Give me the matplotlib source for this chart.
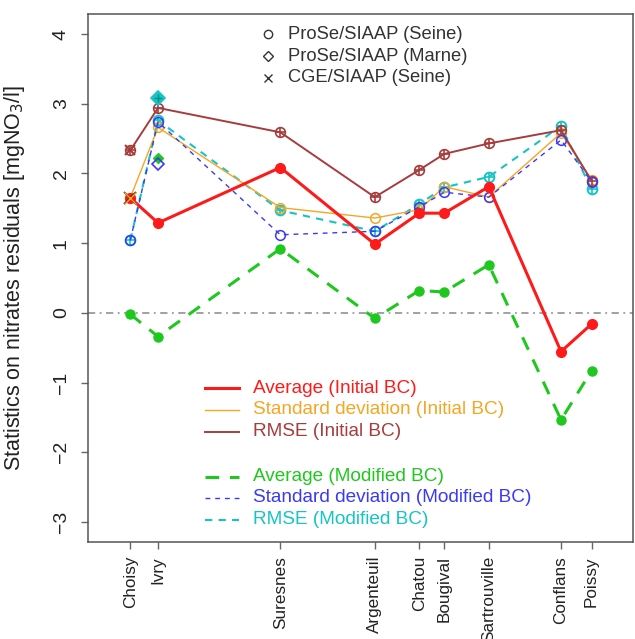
import matplotlib
matplotlib.use("Agg")
import matplotlib.pyplot as plt

plt.rcParams['font.family'] = ['Liberation Sans', 'DejaVu Sans']

# ---------------- data ----------------
stations = ["Choisy", "Ivry", "Suresnes", "Argenteuil", "Chatou", "Bougival",
            "Sartrouville", "Conflans", "Poissy"]
km = [0, 10, 54, 88, 104, 113, 129, 155, 166]

avg_init = [1.65, 1.29, 2.085, 0.985, 1.43, 1.43, 1.81, -0.555, -0.16]
sd_init = [1.65, 2.66, 1.51, 1.36, 1.48, 1.81, 1.66, 2.58, 1.91]
rmse_init = [2.33, 2.94, 2.59, 1.66, 2.05, 2.28, 2.43, 2.62, 1.89]
avg_mod = [-0.02, -0.34, 0.92, -0.08, 0.32, 0.30, 0.69, -1.535, -0.83]
sd_mod = [1.04, 2.74, 1.12, 1.17, 1.52, 1.73, 1.66, 2.48, 1.88]
rmse_mod = [1.04, 2.76, 1.47, 1.17, 1.56, 1.80, 1.95, 2.68, 1.77]

# ProSe/SIAAP (Marne) at Ivry, modified BC
marne_km = [10]
marne_avg_mod = [2.22]
marne_sd_mod = [2.13]
marne_rmse_mod = [3.08]

# CGE/SIAAP (Seine) at Choisy, initial BC
cge_km = [0]
cge_avg = [1.65]
cge_sd = [1.65]
cge_rmse = [2.33]

yticks = [-3, -2, -1, 0, 1, 2, 3, 4]

# ---------------- colours ----------------
c_red = '#ff1a1a'
c_orange = '#f5a623'
c_brown = '#a83c3c'
c_green = '#1ec81e'
c_blue = '#3a3af5'
c_cyan = '#16c4c4'

fig = plt.figure(figsize=(6.35, 6.39), dpi=100)
ax = fig.add_axes([88/635, 97/639, 545/635, 528/639])

ax.axhline(0, color='#9a9a9a', lw=1.3, ls=(0, (4, 2.5, 1, 2.5)), zorder=1)

# Initial BC
ax.plot(km, avg_init, color=c_red, lw=2.2, marker='o', ms=7, mfc=c_red, mec=c_red, zorder=5)
ax.plot(km, sd_init, color=c_orange, lw=1.0, marker='o', ms=7, mfc='none', mec=c_orange, mew=1.1, zorder=4)
ax.plot(km, rmse_init, color=c_brown, lw=1.4, marker='o', ms=7, mfc='none', mec=c_brown, mew=1.2, zorder=4)
ax.plot(km, rmse_init, ls='none', marker='+', ms=7, mec=c_brown, mew=1.2, zorder=4)

# Modified BC
ax.plot(km, avg_mod, color=c_green, lw=2.2, ls=(0, (4.5, 3.5)), marker='o', ms=6.5,
        mfc=c_green, mec=c_green, zorder=5)
ax.plot(km, sd_mod, color=c_blue, lw=1.0, ls=(0, (3.5, 3.5)), marker='o', ms=7,
        mfc='none', mec=c_blue, mew=1.1, zorder=4)
ax.plot(km, rmse_mod, color=c_cyan, lw=1.5, ls=(0, (3.5, 3)), marker='o', ms=7,
        mfc='none', mec=c_cyan, mew=1.4, zorder=3)
ax.plot(km, rmse_mod, ls='none', marker='+', ms=7, mec=c_cyan, mew=1.2, zorder=3)

# Marne points (diamonds)
ax.plot(marne_km, marne_avg_mod, ls='none', marker='D', ms=5, mfc=c_green, mec=c_green, zorder=5)
ax.plot(marne_km, marne_sd_mod, ls='none', marker='D', ms=6, mfc='none', mec=c_blue, mew=1.2, zorder=5)
ax.plot(marne_km, marne_rmse_mod, ls='none', marker='D', ms=7, mfc=c_cyan, mec=c_cyan, mew=1.2, zorder=5)
ax.plot(marne_km, marne_rmse_mod, ls='none', marker='+', ms=6, mec='#0a8a8a', mew=1.0, zorder=6)

# CGE points (crosses)
ax.plot(cge_km, cge_avg, ls='none', marker='x', ms=8, mec='#333333', mew=1.3, zorder=6)
ax.plot(cge_km, cge_sd, ls='none', marker='x', ms=8, mec=c_orange, mew=1.0, zorder=6)
ax.plot(cge_km, cge_rmse, ls='none', marker='x', ms=7, mec=c_brown, mew=1.5, zorder=6)

ax.set_xlim(-15.2, 180.9)
ax.set_ylim(-3.287, 4.287)

ax.set_xticks(km)
ax.set_xticklabels(stations, rotation=90, fontsize=12.3, color='#222222')
ax.set_yticks(yticks)
ax.set_yticklabels([str(v).replace('-', '\u2212') for v in yticks], rotation=90,
                   fontsize=14, va='center', color='#222222')
ax.tick_params(axis='x', length=5, width=1, color='#666666', pad=5)
ax.tick_params(axis='y', length=5, width=1, color='#666666', pad=8)
for s in ax.spines.values():
    s.set_color('#555555')
    s.set_linewidth(1.1)

ax.set_ylabel('Statistics on nitrates residuals [mgNO$_3$/l]', fontsize=15.5, color='#222222')
ax.yaxis.set_label_coords(-0.112, 0.5)

# Marker legend (top)
tr = ax.transAxes
leg_top = [('o', 'ProSe/SIAAP (Seine)', 0.962), ('D', 'ProSe/SIAAP (Marne)', 0.920),
           ('x', 'CGE/SIAAP (Seine)', 0.879)]
for m, lab, yy in leg_top:
    ax.plot([0.330], [yy], transform=tr, marker=m, ms=6 if m != 'D' else 5.5, mfc='none',
            mec='#333333', mew=1.0, ls='none', clip_on=False)
    ax.text(0.367, yy, lab, transform=tr, fontsize=13.2, color='#333333', va='center', ha='left')

# Line legend (bottom)
leg_bot = [
    ('Average (Initial BC)', c_red, 2.2, '-', 0.291),
    ('Standard deviation (Initial BC)', c_orange, 1.0, '-', 0.250),
    ('RMSE (Initial BC)', c_brown, 1.4, '-', 0.209),
    ('Average (Modified BC)', c_green, 2.2, (0, (4.5, 3.5)), 0.124),
    ('Standard deviation (Modified BC)', c_blue, 1.0, (0, (3.5, 3.5)), 0.084),
    ('RMSE (Modified BC)', c_cyan, 1.5, (0, (3.5, 3)), 0.042),
]
for lab, col, lw, ls, yy in leg_bot:
    ax.plot([0.215, 0.277], [yy, yy], transform=tr, color=col, lw=lw, ls=ls)
    ax.text(0.303, yy, lab, transform=tr, fontsize=13.7, color=col, va='center', ha='left')

fig.savefig('out.png', dpi=100)
